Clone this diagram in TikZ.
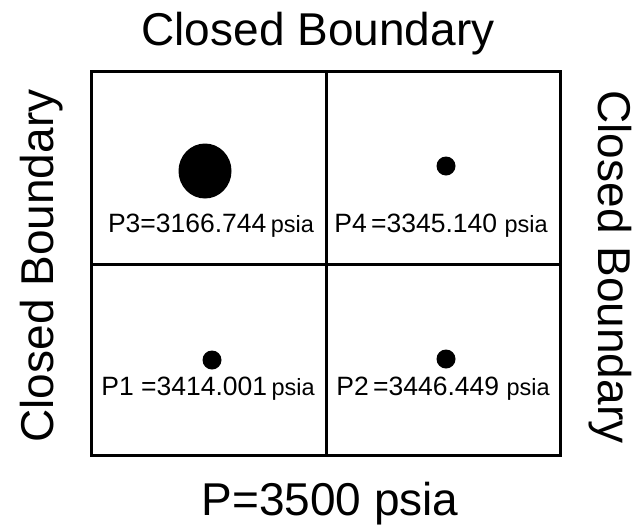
\documentclass[tikz,border=0pt]{standalone}
\usepackage{fontspec}
\setmainfont{Liberation Sans}
\usetikzlibrary{shapes.geometric}
\begin{document}
\begin{tikzpicture}[x=1pt,y=-1pt,
  bigtext/.style={font=\fontsize{46}{46}\selectfont, inner sep=0pt, anchor=base},
  lab/.style={font=\fontsize{26.5}{26.5}\selectfont, inner sep=0pt, anchor=base},
  well/.style={circle, fill=black, inner sep=0pt, minimum size=19pt},
  grid/.style={line width=3pt}]
\newcommand{\unitpsia}{{\fontsize{23.5}{23.5}\selectfont psia}}
\useasboundingbox (0,0) rectangle (635,528);
\fill[white] (0,0) rectangle (635,528);
% box
\draw[grid] (91.5,71.5) rectangle (560.5,455);
\draw[grid] (326,71.5) -- (326,455);
\draw[grid] (91.5,264) -- (560.5,264);
% titles
\node[bigtext] (top) at (318,45) {Closed Boundary};
\node[bigtext, rotate=90] (left) at (53,266) {Closed Boundary};
\node[bigtext, rotate=-90] (right) at (598,267) {Closed Boundary};
\node[bigtext] (bottom) at (330,515) {P=3500 psia};
% wells
\node[ellipse, fill=black, inner sep=0pt, minimum width=53pt, minimum height=55pt] (w3) at (205,171) {};
\node[well] (w4) at (446,166) {};
\node[well] (w1) at (212,360) {};
\node[well] (w2) at (446,359) {};
% labels
\node[lab] (l3) at (211,232) {P3=3166.744\,\unitpsia};
\node[lab] (l4) at (441,232) {P4\,=3345.140 \unitpsia};
\node[lab] (l1) at (208,395) {P1 =3414.001\,\unitpsia};
\node[lab] (l2) at (443,395) {P2\,=3446.449 \unitpsia};
\end{tikzpicture}
\end{document}
